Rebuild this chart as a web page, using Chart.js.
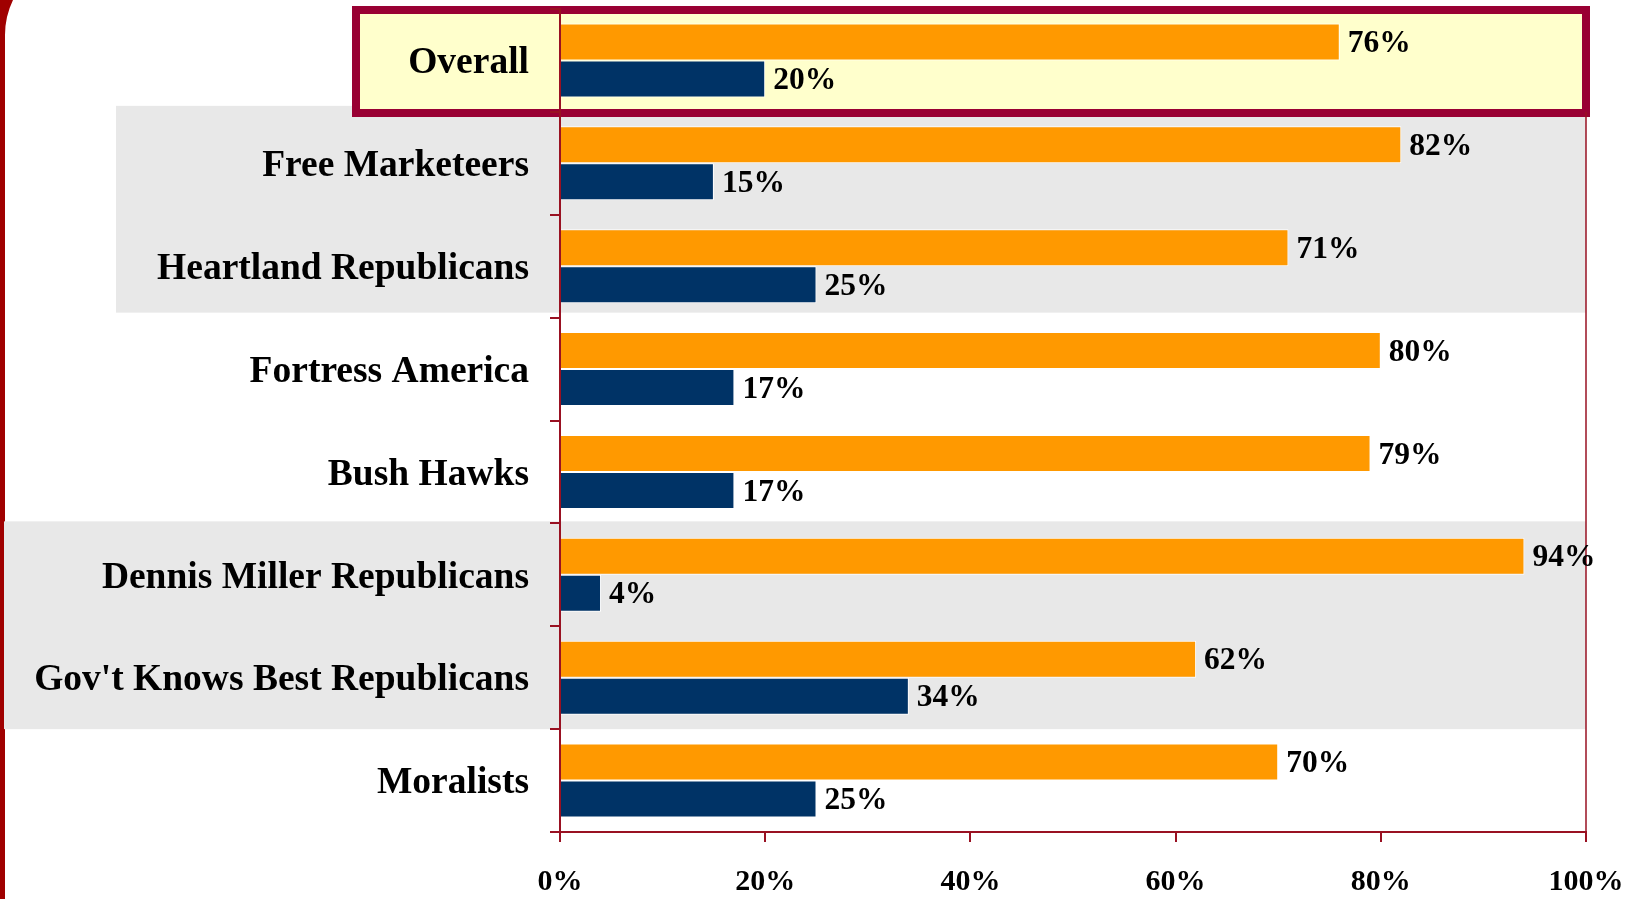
<!DOCTYPE html>
<html>
<head>
<meta charset="utf-8">
<title>Republican segments</title>
<script src="https://cdn.jsdelivr.net/npm/chart.js@4/dist/chart.umd.min.js"></script>
<style>
    body { margin: 0; background: #fff; }
    #chart { display: block; }
</style>
</head>
<body>
<canvas id="chart" width="1638" height="899"></canvas>
<script>
const categories = ['Overall', 'Free Marketeers', 'Heartland Republicans', 'Fortress America', 'Bush Hawks',
    'Dennis Miller Republicans', "Gov't Knows Best Republicans", 'Moralists'];
const orangeValues = [76, 82, 71, 80, 79, 94, 62, 70];
const navyValues = [20, 15, 25, 17, 17, 4, 34, 25];
const xTicks = [0, 20, 40, 60, 80, 100];

const serif = '"Liberation Serif", "Times New Roman", serif';
const axisRed = '#991122';

// band edges from the category scale
function bandEdge(scale, i) {
    const half = (scale.getPixelForValue(1) - scale.getPixelForValue(0)) / 2;
    return scale.getPixelForValue(i) - half;
}

const backdrop = {
    id: 'backdrop',
    beforeDraw(chart) {
        const ctx = chart.ctx;
        const y = chart.scales.y;
        const area = chart.chartArea;
        ctx.save();

        // slide frame on the left
        ctx.fillStyle = '#a00000';
        ctx.beginPath();
        ctx.moveTo(0, 0);
        ctx.lineTo(13, 0);
        ctx.arc(85.6, 35, 80.6, -2.69, -Math.PI, true);
        ctx.lineTo(5, chart.height);
        ctx.lineTo(0, chart.height);
        ctx.closePath();
        ctx.fill();

        // gray bands
        ctx.fillStyle = '#e8e8e8';
        ctx.fillRect(116, bandEdge(y, 1) - 6, area.right - 116, bandEdge(y, 3) - bandEdge(y, 1) + 1);
        ctx.fillRect(4, bandEdge(y, 5) - 2, area.right - 4, bandEdge(y, 7) - bandEdge(y, 5) + 2);

        // Overall highlight box
        ctx.fillStyle = '#ffffcc';
        ctx.strokeStyle = '#990033';
        ctx.lineWidth = 8;
        ctx.fillRect(356, 10, 1230, 103);
        ctx.strokeRect(356, 10, 1230, 103);

        // right border of the plot
        ctx.strokeStyle = axisRed;
        ctx.lineWidth = 1.5;
        ctx.beginPath();
        ctx.moveTo(area.right, bandEdge(y, 1));
        ctx.lineTo(area.right, area.bottom);
        ctx.stroke();
        ctx.restore();
    }
};

const valueLabels = {
    id: 'valueLabels',
    afterDatasetsDraw(chart) {
        const ctx = chart.ctx;
        ctx.save();
        ctx.font = 'bold 31.5px ' + serif;
        ctx.fillStyle = '#000';
        ctx.textAlign = 'left';
        ctx.textBaseline = 'middle';
        chart.data.datasets.forEach(function (ds, d) {
            chart.getDatasetMeta(d).data.forEach(function (bar, i) {
                ctx.fillText(ds.data[i] + '%', bar.x + 8, bar.y + 2);
            });
        });
        ctx.restore();
    }
};

new Chart(document.getElementById('chart'), {
    type: 'bar',
    data: {
        labels: categories,
        datasets: [{
            data: orangeValues,
            backgroundColor: '#ff9900',
            borderColor: '#ffffff',
            borderWidth: 1
        }, {
            data: navyValues,
            backgroundColor: '#003366',
            borderColor: '#ffffff',
            borderWidth: 1
        }]
    },
    options: {
        indexAxis: 'y',
        responsive: false,
        animation: false,
        layout: { padding: { top: 9, right: 52, left: 0, bottom: 0 } },
        datasets: { bar: { categoryPercentage: 0.72, barPercentage: 1 } },
        plugins: {
            legend: { display: false },
            tooltip: { enabled: false }
        },
        scales: {
            x: {
                min: 0,
                max: 100,
                afterBuildTicks: function (scale) {
                    scale.ticks = xTicks.map(v => ({ value: v }));
                },
                afterFit: function (scale) {
                    scale.height = 67;
                    scale.paddingLeft = 0;
                    scale.paddingRight = 0;
                },
                grid: { drawOnChartArea: false, tickLength: 10, color: axisRed, lineWidth: 2 },
                border: { color: axisRed, width: 2 },
                ticks: {
                    padding: 22,
                    color: '#000',
                    font: { family: serif, size: 30, weight: 'bold' },
                    callback: v => v + '%'
                }
            },
            y: {
                afterFit: function (scale) {
                    scale.width = 560;
                    scale.paddingTop = 0;
                    scale.paddingBottom = 0;
                },
                grid: { drawOnChartArea: false, tickLength: 10, color: axisRed, lineWidth: 2, offset: true },
                border: { color: axisRed, width: 2 },
                ticks: {
                    padding: 21,
                    labelOffset: 3,
                    color: '#000',
                    font: { family: serif, size: 37.5, weight: 'bold' }
                }
            }
        }
    },
    plugins: [backdrop, valueLabels]
});
</script>
</body>
</html>
